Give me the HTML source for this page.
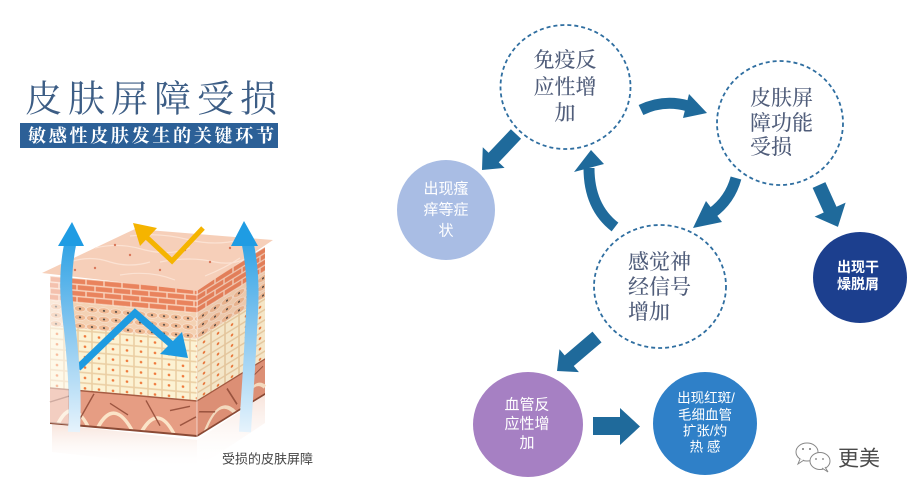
<!DOCTYPE html>
<html>
<head>
<meta charset="utf-8">
<style>
html,body{margin:0;padding:0;background:#fff;}
svg{display:block;}
.serif{font-family:"Liberation Serif","Noto Serif CJK SC",serif;}
.sans{font-family:"Liberation Sans","Noto Sans CJK SC",sans-serif;}
</style>
</head>
<body>
<svg width="910" height="499" viewBox="0 0 910 499" xmlns="http://www.w3.org/2000/svg">
<defs>
  <pattern id="brick" width="18" height="12" patternUnits="userSpaceOnUse">
    <rect width="18" height="12" fill="#f8d3bd"/>
    <rect x="0.7" y="0.7" width="16.6" height="4.6" fill="#e9835d"/>
    <rect x="-8.3" y="6.7" width="16.6" height="4.6" fill="#e9835d"/>
    <rect x="9.7" y="6.7" width="16.6" height="4.6" fill="#e9835d"/>
  </pattern>
  <pattern id="gran" width="12" height="8.6" patternUnits="userSpaceOnUse">
    <rect width="12" height="8.6" fill="#f4d2b4"/>
    <ellipse cx="6" cy="4.3" rx="5.6" ry="3" fill="#efb993" stroke="#fbe8da" stroke-width="0.6"/>
    <circle cx="6" cy="4.3" r="0.95" fill="#333"/>
  </pattern>
  <pattern id="cells" width="14" height="10.4" patternUnits="userSpaceOnUse">
    <rect x="0.4" y="0.4" width="13.2" height="9.6" fill="#fcf2d3" stroke="#ebcfa4" stroke-width="0.8"/>
    <circle cx="7" cy="5.2" r="1.3" fill="#ef7a3c"/>
  </pattern>
  <linearGradient id="blueL" x1="0" y1="225" x2="0" y2="432" gradientUnits="userSpaceOnUse">
    <stop offset="0" stop-color="#1f9ce3"/>
    <stop offset="0.45" stop-color="#7cc2ee"/>
    <stop offset="1" stop-color="#e6f3fc"/>
  </linearGradient>
  <linearGradient id="refl" x1="0" y1="0" x2="0" y2="1">
    <stop offset="0" stop-color="#f1c9b8" stop-opacity="0.5"/>
    <stop offset="1" stop-color="#ffffff" stop-opacity="0"/>
  </linearGradient>
</defs>

<!-- Title -->
<text class="serif" x="25" y="100" font-size="37" fill="#3c5d85" dominant-baseline="central" textLength="252" lengthAdjust="spacing">皮肤屏障受损</text>
<rect x="20" y="123" width="258" height="25" fill="#2c6097"/>
<text class="serif" x="28" y="136" font-size="18" font-weight="bold" fill="#fff" dominant-baseline="central" textLength="246" lengthAdjust="spacing">敏感性皮肤发生的关键环节</text>

<!-- Skin cube -->
<polygon points="52,424 197,440 197,468 52,452" fill="url(#refl)"/>
<polygon points="197,440 265,395 265,423 197,468" fill="url(#refl)"/>

<g transform="translate(50,276) skewY(5.05)">
  <rect x="0" y="0" width="147" height="24" fill="url(#brick)"/>
  <rect x="0" y="24" width="147" height="26" fill="url(#gran)"/>
  <rect x="0" y="50" width="147" height="62" fill="url(#cells)"/>
  <rect x="0" y="112" width="147" height="35" fill="#e69d83"/>
  <path d="M8,147 Q22,118 38,147 M48,147 Q64,116 82,147 M92,147 Q108,118 124,147" fill="none" stroke="#fbe4c8" stroke-width="3.5"/>
  <path d="M0,126 L20,118 M30,140 L44,114 M60,122 L78,132 M96,116 L110,140 M120,124 L140,118 M130,138 L146,128" fill="none" stroke="#9c5540" stroke-width="1.4"/>
  <line x1="0" y1="112" x2="147" y2="112" stroke="#a65c43" stroke-width="1.5"/>
  <line x1="0" y1="147" x2="147" y2="147" stroke="#8b4a35" stroke-width="2"/>
  <rect x="0" y="0" width="18" height="147" fill="#fff" opacity="0.5"/>
</g>
<g transform="translate(197,289) skewY(-31.7)">
  <rect x="0" y="0" width="68" height="24" fill="url(#brick)"/>
  <rect x="0" y="24" width="68" height="26" fill="url(#gran)"/>
  <rect x="0" y="50" width="68" height="62" fill="url(#cells)"/>
  <rect x="0" y="112" width="68" height="35" fill="#e3957b"/>
  <path d="M8,147 Q22,120 38,147 M44,147 Q56,122 68,140" fill="none" stroke="#fbe4c8" stroke-width="3"/>
  <path d="M2,124 L18,134 M30,118 L40,140 M50,124 L66,118" fill="none" stroke="#9c5540" stroke-width="1.3"/>
  <line x1="0" y1="112" x2="68" y2="112" stroke="#a65c43" stroke-width="1.5"/>
  <line x1="0" y1="147" x2="68" y2="147" stroke="#8b4a35" stroke-width="2"/>
  <rect x="0" y="0" width="68" height="147" fill="#7a3a20" opacity="0.06"/>
</g>
<line x1="197" y1="289" x2="197" y2="440" stroke="#fff" stroke-width="0.8" opacity="0.7"/>
<polygon points="42,273 135,229 273,240 197,291" fill="#f6cfb9"/>
<path d="M70,262 Q90,255 110,262 Q130,268 150,262 M95,248 Q120,242 145,250 Q170,256 190,248 M130,236 Q160,232 190,240 Q215,246 240,240 M120,275 Q150,270 175,280 M160,262 Q190,256 215,262 Q235,266 250,256 M205,276 Q225,268 240,258" fill="none" stroke="#fbe2d3" stroke-width="1.2"/>
<g fill="#d9775a">
  <circle cx="95" cy="268" r="1.2"/><circle cx="130" cy="255" r="1.2"/><circle cx="160" cy="270" r="1.2"/>
  <circle cx="185" cy="250" r="1.2"/><circle cx="210" cy="262" r="1.2"/><circle cx="150" cy="240" r="1.2"/>
  <circle cx="230" cy="248" r="1.2"/><circle cx="115" cy="245" r="1.2"/><circle cx="75" cy="270" r="1.2"/>
</g>

<polyline points="203,228 172,261 140,231" fill="none" stroke="#f5b400" stroke-width="5" stroke-linejoin="miter"/>
<polygon points="133,223 157,228 140,246" fill="#f5b400"/>

<polyline points="78,368 135,313 178,350" fill="none" stroke="#1e9be1" stroke-width="7" stroke-linejoin="miter"/>
<polygon points="188,358 160,354 182,332" fill="#1e9be1"/>

<path d="M74,432 C76,390 73,360 70,330 C66,300 64,275 70,245" fill="none" stroke="url(#blueL)" stroke-width="12"/>
<polygon points="72,222 58,246 84,246" fill="#1f9ce3"/>
<path d="M245,432 C247,395 250,360 251,330 C253,300 254,275 248,245" fill="none" stroke="url(#blueL)" stroke-width="12"/>
<polygon points="244,221 231,246 258,246" fill="#1f9ce3"/>

<text class="sans" x="222" y="459" font-size="13" fill="#444" dominant-baseline="central" textLength="91" lengthAdjust="spacing">受损的皮肤屏障</text>

<!-- Right diagram: dashed circles -->
<g fill="#fff" stroke="#2f6ea0" stroke-width="1.8" stroke-dasharray="4 3">
  <ellipse cx="565.5" cy="87" rx="65" ry="62"/>
  <ellipse cx="780" cy="123" rx="63" ry="62"/>
  <ellipse cx="660" cy="286.5" rx="66" ry="61.5"/>
</g>

<ellipse cx="446" cy="210" rx="49" ry="50" fill="#a9bde4"/>
<ellipse cx="860" cy="277.5" rx="47" ry="45.5" fill="#1c3f8e"/>
<ellipse cx="528" cy="424.5" rx="55" ry="52.5" fill="#a680c3"/>
<ellipse cx="705" cy="423.5" rx="52" ry="51.5" fill="#2f80c8"/>

<g fill="#1f6a9b">
  <polygon transform="translate(516,134) rotate(133.4)" points="0,-7 32.5,-7 32.5,-15 49.5,0 32.5,15 32.5,7 0,7"/>
  <polygon transform="translate(819,185) rotate(65.7)" points="0,-7 27,-7 27,-17 46,0 27,17 27,7 0,7"/>
  <polygon transform="translate(597,337) rotate(139.6)" points="0,-7 36.5,-7 36.5,-15 52.5,0 36.5,15 36.5,7 0,7"/>
  <polygon points="593,417 620,417 620,408 640,426.5 620,445 620,435 593,435"/>
  <polygon points="689,94 683,118 707,113"/>
  <polygon points="574,172 604,164 591,150"/>
  <polygon points="706,201 722,222 693,228"/>
</g>
<g fill="none" stroke="#1f6a9b" stroke-width="11">
  <path d="M641,110 Q664,99 688,106"/>
  <path d="M615,227 Q589,207 589,168"/>
  <path d="M736,178 Q730,200 712,213"/>
</g>

<g class="serif" font-size="21" font-weight="500" fill="#505d7a" dominant-baseline="central">
  <text x="565" y="60" text-anchor="middle">免疫反</text>
  <text x="565" y="87" text-anchor="middle">应性增</text>
  <text x="565" y="113" text-anchor="middle">加</text>
  <text x="750" y="98">皮肤屏</text>
  <text x="750" y="123">障功能</text>
  <text x="750" y="147">受损</text>
  <text x="628" y="262">感觉神</text>
  <text x="628" y="287">经信号</text>
  <text x="628" y="312">增加</text>
</g>

<g class="sans" fill="#fff" dominant-baseline="central" text-anchor="middle">
  <g font-size="15">
    <text x="446" y="189">出现瘙</text>
    <text x="446" y="210">痒等症</text>
    <text x="446" y="231">状</text>
  </g>
  <g font-size="14" font-weight="bold">
    <text x="858" y="267">出现干</text>
    <text x="858" y="284">燥脱屑</text>
  </g>
  <g font-size="15">
    <text x="527" y="405">血管反</text>
    <text x="527" y="424">应性增</text>
    <text x="527" y="443">加</text>
  </g>
  <g font-size="13.5">
    <text x="706" y="398">出现红斑/</text>
    <text x="705" y="415">毛细血管</text>
    <text x="705" y="431">扩张/灼</text>
    <text x="705" y="447">热 感</text>
  </g>
</g>

<g fill="#fff" stroke="#888" stroke-width="1">
  <ellipse cx="807" cy="452" rx="11" ry="9"/>
  <path d="M800,459 L798,464 L804,460" />
  <ellipse cx="820" cy="461" rx="10" ry="8.5"/>
  <path d="M825,467 L828,472 L822,468"/>
</g>
<g fill="#777">
  <circle cx="803" cy="449" r="1"/><circle cx="810" cy="449" r="1"/>
  <circle cx="816" cy="459" r="0.9"/><circle cx="823" cy="459" r="0.9"/>
</g>
<text class="sans" x="838" y="459" font-size="21" fill="#4a4a4a" dominant-baseline="central" textLength="42" lengthAdjust="spacing">更美</text>
</svg>
</body>
</html>
